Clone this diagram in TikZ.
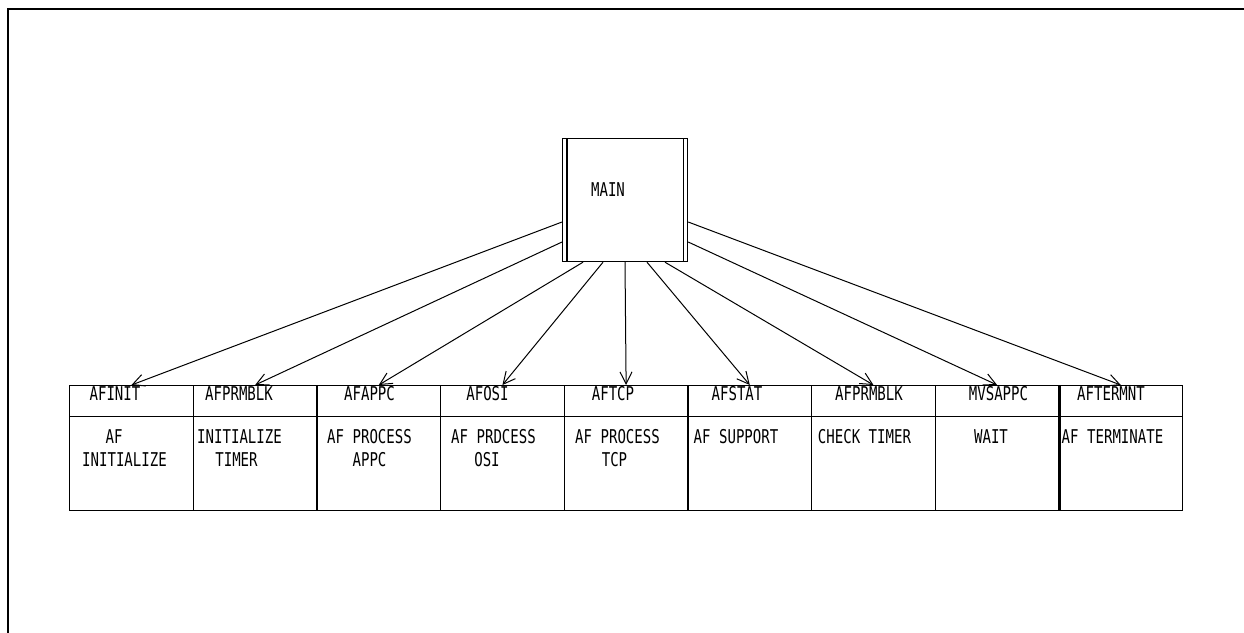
\documentclass[tikz,border=0pt]{standalone}
\usepackage{fontspec}
\setmonofont{DejaVu Sans Mono}[FakeStretch=0.74]
\usetikzlibrary{arrows.meta,calc}
\begin{document}
\begin{tikzpicture}[x=1pt,y=-1pt,
  lbl/.style={font=\ttfamily\fontsize{19}{23}\selectfont, inner sep=0pt, anchor=base},
  cell/.style={draw, line width=1.2pt, minimum width=123.67pt, inner sep=0pt, anchor=north west},
  conn/.style={line width=1pt, -{Straight Barb[length=12pt,width=12pt]}}]
\useasboundingbox (0,0) rectangle (1244,632);
% frame
\draw[line width=2pt] (8,640) -- (8,9.3) -- (1250,9.3);
% main box
\node[draw, line width=1.2pt, minimum width=125pt, minimum height=123pt, inner sep=0pt, anchor=north west] (main) at (562,138) {};
\draw[line width=1.2pt] ([xshift=5pt]main.north west) -- ([xshift=5pt]main.south west);
\draw[line width=1.2pt] ([xshift=-5pt]main.north east) -- ([xshift=-5pt]main.south east);
\node[lbl] (maintxt) at (608,196) {MAIN};
% cells
\foreach \i in {1,...,9} {
  \pgfmathsetmacro\xx{69+(\i-1)*123.67}
  \node[cell, minimum height=31pt] (h\i) at (\xx,385) {};
  \node[cell, minimum height=94pt] (b\i) at (\xx,416) {};
}
\draw[line width=1.2pt] ([xshift=2pt]h9.north west) -- ([xshift=2pt]b9.south west);
% start points
\coordinate (l1) at ($(main.north west)+(0,84)$);
\coordinate (l2) at ($(main.north west)+(0,104)$);
\coordinate (r1) at ($(main.north east)+(0,84)$);
\coordinate (r2) at ($(main.north east)+(0,104)$);
\coordinate (s1) at ($(main.south west)+(21,0)$);
\coordinate (s2) at ($(main.south west)+(41,0)$);
\coordinate (s3) at ($(main.south west)+(63,0)$);
\coordinate (s4) at ($(main.south west)+(85,0)$);
\coordinate (s5) at ($(main.south west)+(103,0)$);
% connectors
\draw[conn] (l1) -- (h1.north);
\draw[conn] (l2) -- (h2.north);
\draw[conn] (s1) -- (h3.north);
\draw[conn] (s2) -- (h4.north);
\draw[conn] (s3) -- (h5.north);
\draw[conn] (s4) -- (h6.north);
\draw[conn] (s5) -- (h7.north);
\draw[conn] (r2) -- (h8.north);
\draw[conn] (r1) -- (h9.north);
% header labels
\node[lbl] (t1) at (115,400) {AFINIT};
\node[lbl] (t2) at (239,400) {AFPRMBLK};
\node[lbl] (t3) at (369.5,400) {AFAPPC};
\node[lbl] (t4) at (487.5,400) {AFOSI};
\node[lbl] (t5) at (613,400) {AFTCP};
\node[lbl] (t6) at (737,400) {AFSTAT};
\node[lbl] (t7) at (869,400) {AFPRMBLK};
\node[lbl] (t8) at (998.5,400) {MVSAPPC};
\node[lbl] (t9) at (1111,400) {AFTERMNT};
% body labels
\node[lbl] (d1a) at (114,443) {AF};
\node[lbl] (d1b) at (124.5,466) {INITIALIZE};
\node[lbl] (d2a) at (239.5,443) {INITIALIZE};
\node[lbl] (d2b) at (236.5,466) {TIMER};
\node[lbl] (d3a) at (369.5,443) {AF PROCESS};
\node[lbl] (d3b) at (369.5,466) {APPC};
\node[lbl] (d4a) at (493.5,443) {AF PRDCESS};
\node[lbl] (d4b) at (487,466) {OSI};
\node[lbl] (d5a) at (617.5,443) {AF PROCESS};
\node[lbl] (d5b) at (614.5,466) {TCP};
\node[lbl] (d6a) at (736,443) {AF SUPPORT};
\node[lbl] (d7a) at (864.5,443) {CHECK TIMER};
\node[lbl] (d8a) at (991,443) {WAIT};
\node[lbl] (d9a) at (1112.5,443) {AF TERMINATE};
\end{tikzpicture}
\end{document}
